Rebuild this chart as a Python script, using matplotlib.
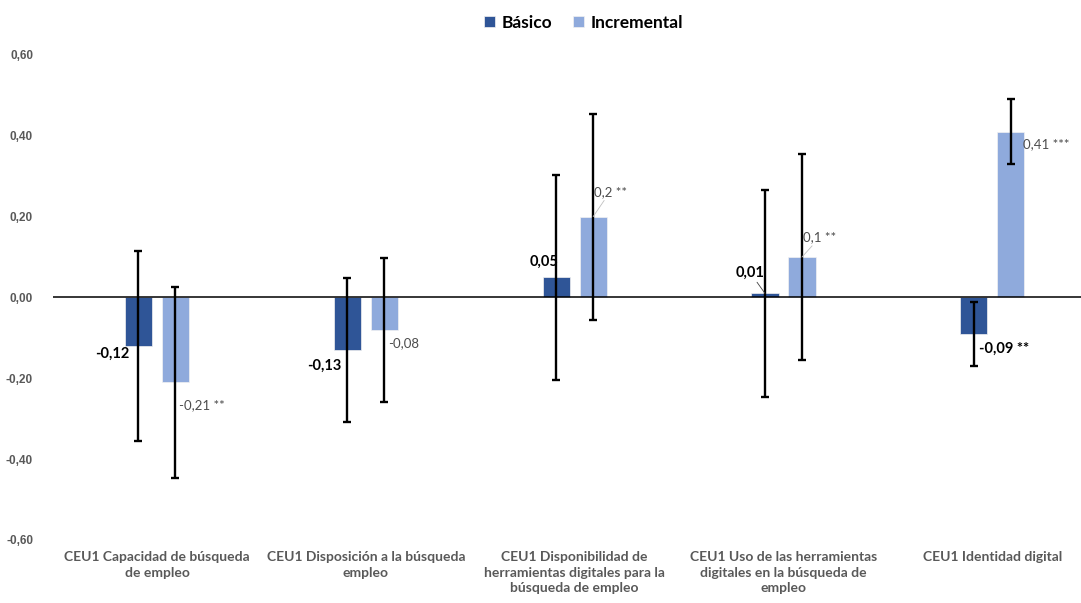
import matplotlib
matplotlib.use("Agg")
import matplotlib.pyplot as plt
import numpy as np

# Chart data
categories = [
    "CEU1 Capacidad de búsqueda\nde empleo",
    "CEU1 Disposición a la búsqueda\nempleo",
    "CEU1 Disponibilidad de\nherramientas digitales para la\nbúsqueda de empleo",
    "CEU1 Uso de las herramientas\ndigitales en la búsqueda de\nempleo",
    "CEU1 Identidad digital",
]
basico = [-0.12, -0.13, 0.05, 0.01, -0.09]
incremental = [-0.21, -0.08, 0.20, 0.10, 0.41]
basico_err = [0.236, 0.177, 0.254, 0.255, 0.079]
incremental_err = [0.236, 0.178, 0.255, 0.255, 0.080]
basico_labels = ["-0,12", "-0,13", "0,05", "0,01", "-0,09 **"]
incremental_labels = ["-0,21 **", "-0,08", "0,2 **", "0,1 **", "0,41 ***"]
yticks = [-0.6, -0.4, -0.2, 0.0, 0.2, 0.4, 0.6]
ytick_labels = ["-0,60", "-0,40", "-0,20", "0,00", "0,20", "0,40", "0,60"]

# label placement (offset pixels from bar tip) and whether a leader line is drawn
basico_offsets = [(-26, -8), (-23, -16), (-12, 15), (-15, 21), (30, -15)]
basico_leader = [False, False, False, True, False]
incr_offsets = [(26, -23), (19, -13), (17, 25), (18, 20), (35, -12)]
incr_leader = [False, False, True, True, False]

DARK = "#2F5597"
LIGHT = "#8FAADC"
GREY = "#595959"
FONT = "Lato"

plt.rcParams["font.family"] = [FONT, "DejaVu Sans"]

fig = plt.figure(figsize=(10.81, 6.03), dpi=100)
ax = fig.add_axes([0.0486, 0.1045, 0.966, 0.8043])

x = np.arange(len(categories))
w = 0.13
off = 0.0885

ax.bar(x - off, basico, w, color=DARK, edgecolor="#f2f2f2", linewidth=0.5, label="Básico", zorder=2)
ax.bar(x + off, incremental, w, color=LIGHT, edgecolor="#f2f2f2", linewidth=0.5, label="Incremental", zorder=2)

ax.errorbar(x - off, basico, yerr=basico_err, fmt="none", ecolor="black",
            elinewidth=1.7, capsize=3, capthick=1.7, zorder=4)
ax.errorbar(x + off, incremental, yerr=incremental_err, fmt="none", ecolor="black",
            elinewidth=1.7, capsize=3, capthick=1.7, zorder=4)

ax.axhline(0, color="black", linewidth=1.1, zorder=3)

for i in range(len(categories)):
    ap = dict(arrowstyle="-", color="#404040", lw=0.6, shrinkA=0, shrinkB=0) if basico_leader[i] else None
    ax.annotate(basico_labels[i], xy=(x[i] - off, basico[i]), xytext=basico_offsets[i],
                textcoords="offset pixels", ha="center", va="center",
                fontsize=10.5, fontweight="bold", color="black", arrowprops=ap, zorder=5)
    ap = dict(arrowstyle="-", color="#bfbfbf", lw=0.6, shrinkA=0, shrinkB=0) if incr_leader[i] else None
    ax.annotate(incremental_labels[i], xy=(x[i] + off, incremental[i]), xytext=incr_offsets[i],
                textcoords="offset pixels", ha="center", va="center",
                fontsize=9.5, color="#4d4d4d", arrowprops=ap, zorder=5)

ax.set_xlim(-0.5, len(categories) - 0.5)
ax.set_ylim(-0.6, 0.6)
ax.set_yticks(yticks)
ax.set_yticklabels(ytick_labels, fontsize=8.5, fontweight="bold", color=GREY,
                   family=["Liberation Sans", "DejaVu Sans"])
ax.set_xticks(x)
ax.set_xticklabels(categories, fontsize=10, fontweight="bold", color=GREY, linespacing=1.35)
ax.tick_params(axis="y", length=0, pad=14)
ax.tick_params(axis="x", length=0, pad=8)
for s in ax.spines.values():
    s.set_visible(False)

fig.legend(loc="center", bbox_to_anchor=(0.54, 0.962), ncol=2, frameon=False,
           prop={"family": FONT, "weight": "bold", "size": 12.5},
           handlelength=0.6, handleheight=0.6, handletextpad=0.4, columnspacing=1.2)

fig.savefig("out.png", dpi=100)
